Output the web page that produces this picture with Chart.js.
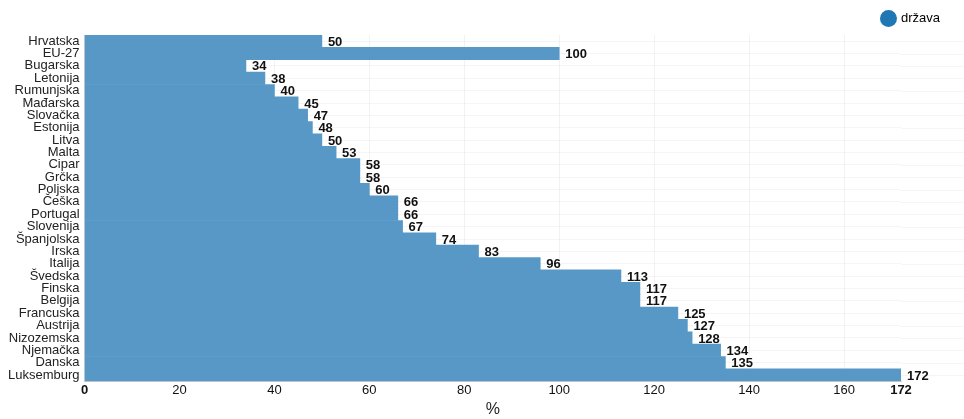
<!DOCTYPE html>
<html>
<head>
<meta charset="utf-8">
<script src="https://cdn.jsdelivr.net/npm/chart.js@4"></script>
<style>
  html, body { margin: 0; padding: 0; background: #fff; }
  #wrap { width: 964px; height: 419px; }
</style>
</head>
<body>
<div id="wrap"><canvas id="myChart"></canvas></div>
<script>
const categories = ['Hrvatska', 'EU-27', 'Bugarska', 'Letonija', 'Rumunjska', 'Mađarska', 'Slovačka', 'Estonija', 'Litva', 'Malta', 'Cipar', 'Grčka', 'Poljska', 'Češka', 'Portugal', 'Slovenija', 'Španjolska', 'Irska', 'Italija', 'Švedska', 'Finska', 'Belgija', 'Francuska', 'Austrija', 'Nizozemska', 'Njemačka', 'Danska', 'Luksemburg'];
const values = [50, 100, 34, 38, 40, 45, 47, 48, 50, 53, 58, 58, 60, 66, 66, 67, 74, 83, 96, 113, 117, 117, 125, 127, 128, 134, 135, 172];
const tickValues = [0, 20, 40, 60, 80, 100, 120, 140, 160, 172];
const seriesName = 'država';
const axisTitle = '%';

const boldTicks = [0, 172];
const FONT = '"Liberation Sans", Arial, sans-serif';

// value at the end of each bar
const valueLabels = {
    id: 'valueLabels',
    afterDatasetsDraw(chart) {
        const ctx = chart.ctx;
        const meta = chart.getDatasetMeta(0);
        ctx.save();
        ctx.font = 'bold 13px ' + FONT;
        ctx.textBaseline = 'middle';
        ctx.textAlign = 'left';
        ctx.fillStyle = '#111';
        meta.data.forEach((bar, i) => {
            ctx.fillText(String(values[i]), bar.x + 6, bar.y + 1);
        });
        ctx.restore();
    }
};

// horizontal grid keeps going past the plot to the right edge
const gridTail = {
    id: 'gridTail',
    beforeDatasetsDraw(chart) {
        const ctx = chart.ctx;
        const y = chart.scales.y;
        ctx.save();
        ctx.strokeStyle = 'rgba(0,0,0,0.04)';
        ctx.lineWidth = 1;
        y.ticks.forEach((t, i) => {
            const py = Math.round(y.getPixelForTick(i)) + 0.5;
            ctx.beginPath();
            ctx.moveTo(chart.chartArea.right, py);
            ctx.lineTo(chart.width, py);
            ctx.stroke();
        });
        ctx.restore();
    }
};

const ctx = document.getElementById('myChart').getContext('2d');
const myChart = new Chart(ctx, {
    type: 'bar',
    data: {
        labels: categories,
        datasets: [{
            label: seriesName,
            data: values,
            backgroundColor: 'rgb(88, 152, 199)',
            borderWidth: 0,
            barPercentage: 1,
            categoryPercentage: 1
        }]
    },
    options: {
        indexAxis: 'y',
        responsive: true,
        maintainAspectRatio: false,
        animation: false,
        layout: { padding: { left: 3, right: 16, top: 4, bottom: 0 } },
        plugins: {
            legend: {
                position: 'top',
                align: 'end',
                labels: {
                    usePointStyle: true,
                    pointStyle: 'circle',
                    boxWidth: 12,
                    boxHeight: 12,
                    padding: 8,
                    color: '#222',
                    font: { family: FONT, size: 13 },
                    generateLabels(chart) {
                        return [{
                            text: seriesName,
                            fillStyle: '#1f77b4',
                            strokeStyle: '#1f77b4',
                            lineWidth: 0,
                            pointStyle: 'circle',
                            datasetIndex: 0
                        }];
                    }
                }
            },
            tooltip: { enabled: false }
        },
        scales: {
            x: {
                min: 0,
                max: 172,
                afterBuildTicks(scale) {
                    scale.ticks = tickValues.map(v => ({ value: v }));
                },
                afterFit(scale) {
                    scale.paddingRight = 63;
                },
                grid: {
                    color: c => (c.tick && c.tick.value === 172) ? 'rgba(0,0,0,0)' : 'rgba(0,0,0,0.05)',
                    drawTicks: false
                },
                border: { color: '#ccc' },
                ticks: {
                    color: '#111',
                    padding: 1,
                    font: c => ({
                        family: FONT,
                        size: 13,
                        weight: boldTicks.includes(c.tick && c.tick.value) ? 'bold' : 'normal'
                    })
                },
                title: {
                    display: true,
                    text: axisTitle,
                    color: '#222',
                    padding: { top: 1, bottom: 0 },
                    font: { family: FONT, size: 16 }
                }
            },
            y: {
                grid: { color: 'rgba(0,0,0,0.04)', drawTicks: false, offset: false },
                border: { color: '#ccc' },
                ticks: {
                    autoSkip: false,
                    color: '#222',
                    padding: 5,
                    font: { family: FONT, size: 13 }
                }
            }
        }
    },
    plugins: [gridTail, valueLabels]
});
</script>
</body>
</html>
